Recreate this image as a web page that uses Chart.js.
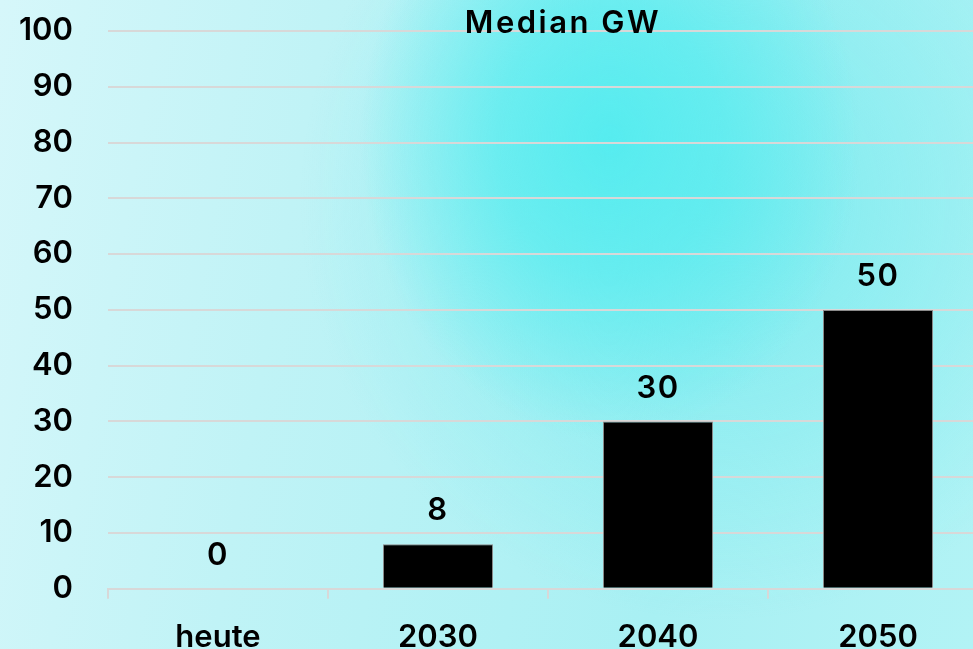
<!DOCTYPE html>
<html>
<head>
<meta charset="utf-8">
<script src="https://cdn.jsdelivr.net/npm/chart.js@4/dist/chart.umd.min.js"></script>
<style>
  html, body { margin: 0; padding: 0; width: 973px; height: 649px; overflow: hidden; }
  body {
    background:
      radial-gradient(ellipse 250px 300px at 610px 140px, rgba(86,236,239,1) 0%, rgba(86,236,239,0.7) 45%, rgba(86,236,239,0) 100%),
      radial-gradient(ellipse 420px 420px at 720px 200px, rgba(110,234,238,0.75) 0%, rgba(110,234,238,0) 100%),
      linear-gradient(100deg, #d6f7fa 0%, #c0f3f6 30%, #a8f0f3 70%, #b2f3f5 100%);
  }
  #wrap { position: absolute; left: 0; top: 0; width: 1000px; height: 676px; }
</style>
</head>
<body>
<div id="wrap"><canvas id="c"></canvas></div>
<script>
const categories = ['heute', '2030', '2040', '2050'];
const medianGW = [0, 8, 30, 50];
const yTicks = [0, 10, 20, 30, 40, 50, 60, 70, 80, 90, 100];
const chartTitle = 'Median GW';

const FONT = 'Inter, "DejaVu Sans", sans-serif';
const SIZE = 31;
const WEIGHT = 600;

// Value labels above each bar and the chart title
const labelPlugin = {
  id: 'labels',
  beforeInit(chart) { chart.ctx.letterSpacing = '1.5px'; },
  afterDatasetsDraw(chart) {
    const ctx = chart.ctx;
    const meta = chart.getDatasetMeta(0);
    ctx.save();
    ctx.letterSpacing = '1.5px';
    ctx.font = WEIGHT + ' ' + SIZE + 'px ' + FONT;
    ctx.fillStyle = '#000';
    ctx.textAlign = 'center';
    ctx.textBaseline = 'middle';
    meta.data.forEach((bar, i) => {
      ctx.fillText(String(medianGW[i]), bar.x, bar.y - 33);
    });
    const area = chart.chartArea;
    ctx.letterSpacing = '2.5px';
    ctx.textBaseline = 'alphabetic';
    ctx.fillText(chartTitle, (area.left + area.right) / 2 + 15, 33);
    ctx.restore();
  }
};

new Chart(document.getElementById('c'), {
  type: 'bar',
  data: {
    labels: categories,
    datasets: [{
      data: medianGW,
      backgroundColor: '#000000',
      borderColor: '#8a8a8a',
      borderWidth: 1,
      barPercentage: 0.5,
      categoryPercentage: 1.0
    }]
  },
  options: {
    responsive: true,
    maintainAspectRatio: false,
    animation: false,
    layout: { padding: { top: 31, right: 12, left: 0, bottom: 0 } },
    plugins: { legend: { display: false }, tooltip: { enabled: false } },
    scales: {
      x: {
        grid: { display: true, drawOnChartArea: false, offset: true, tickLength: 10, color: '#d8d8d8', lineWidth: 2 },
        border: { display: true, color: '#d8d8d8', width: 2 },
        ticks: { color: '#000', font: { family: FONT, size: SIZE, weight: WEIGHT }, padding: 20, maxRotation: 0 }
      },
      y: {
        min: 0, max: 100,
        afterBuildTicks(axis) { axis.ticks = yTicks.map(v => ({ value: v })); },
        afterFit(axis) { axis.width = 108; axis.paddingTop = 0; axis.paddingBottom = 0; },
        grid: { color: '#d8d8d8', lineWidth: 2, drawTicks: false },
        border: { display: false },
        ticks: { color: '#000', font: { family: FONT, size: SIZE, weight: WEIGHT }, padding: 35 }
      }
    }
  },
  plugins: [labelPlugin]
});
</script>
</body>
</html>
